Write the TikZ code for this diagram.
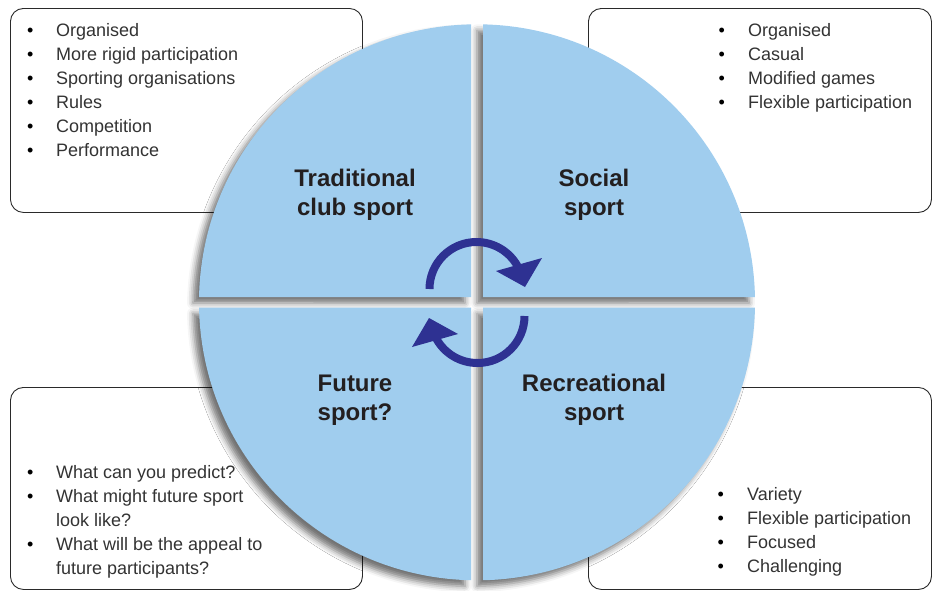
\documentclass[tikz,border=0pt]{standalone}
\usepackage{fontspec}
\setmainfont{Liberation Sans}
\usetikzlibrary{shadows.blur}
\definecolor{quadblue}{HTML}{A0CDEE}
\definecolor{arrowblue}{HTML}{2E3192}
\definecolor{boxline}{HTML}{2A2A2A}
\definecolor{txtgrey}{HTML}{333333}
\definecolor{labblack}{HTML}{231F20}
\begin{document}
\begin{tikzpicture}[x=1pt,y=-1pt,
  infobox/.style={draw=boxline, line width=0.9pt, rounded corners=13pt, fill=white, anchor=north west, inner sep=0pt},
  listitem/.style={anchor=base west, inner sep=0pt, text=txtgrey, font=\fontsize{18}{24}\selectfont},
  bulletmark/.style={anchor=base west, inner sep=0pt, text=black, font=\fontsize{18}{24}\selectfont},
  quadlabel/.style={anchor=base, inner sep=0pt, text=labblack, font=\fontsize{24}{29}\selectfont\bfseries},
  qshadow/.style={blur shadow={shadow xshift=-6pt, shadow yshift=-6pt, shadow blur radius=6pt, shadow opacity=55}},
  quadfill/.style={fill=quadblue},
  cyc/.style={draw=arrowblue, line width=8pt},
  headtri/.style={fill=arrowblue}]
\useasboundingbox (0,0) rectangle (932,590);

% corner boxes
\node[infobox, minimum width=352pt, minimum height=204pt] (boxTL) at (10,8) {};
\node[infobox, minimum width=343pt, minimum height=204pt] (boxTR) at (588,8) {};
\node[infobox, minimum width=352pt, minimum height=202pt] (boxBL) at (10,387) {};
\node[infobox, minimum width=343pt, minimum height=202pt] (boxBR) at (588,387) {};

% top-left list
\foreach \t [count=\i] in {Organised, More rigid participation, Sporting organisations, Rules, Competition, Performance} {
  \node[bulletmark] (tlb\i) at (27,{12.5+24*\i}) {\textbullet};
  \node[listitem] (tlt\i) at (56,{12.5+24*\i}) {\t};
}
% top-right list
\foreach \t [count=\i] in {Organised, Casual, Modified games, Flexible participation} {
  \node[bulletmark] (trb\i) at (718.5,{12.5+24*\i}) {\textbullet};
  \node[listitem] (trt\i) at (748,{12.5+24*\i}) {\t};
}
% bottom-left list
\node[bulletmark] (blb1) at (27,478.5) {\textbullet};
\node[listitem] (blt1) at (56,478.5) {What can you predict?};
\node[bulletmark] (blb2) at (27,502.5) {\textbullet};
\node[listitem] (blt2) at (56,502.5) {What might future sport};
\node[listitem] (blt3) at (56,526.5) {look like?};
\node[bulletmark] (blb4) at (27,550.5) {\textbullet};
\node[listitem] (blt4) at (56,550.5) {What will be the appeal to};
\node[listitem] (blt5) at (56,574.5) {future participants?};
% bottom-right list
\foreach \t [count=\i] in {Variety, Flexible participation, Focused, Challenging} {
  \node[bulletmark] (brb\i) at (717.5,{476.5+24*\i}) {\textbullet};
  \node[listitem] (brt\i) at (747,{476.5+24*\i}) {\t};
}

% the four quadrants (centre 477,302.3; radius 278)
\coordinate (disc) at (477,302.3);
\def\quadTL{(471,297.1) -- (471,24.365) arc[start angle=268.763, end angle=181.072, radius=278] -- cycle}
\def\quadTR{(483,297.1) -- (483,24.365) arc[start angle=271.237, end angle=358.928, radius=278] -- cycle}
\def\quadBR{(483,307.5) -- (754.95,307.5) arc[start angle=1.072, end angle=88.763, radius=278] -- cycle}
\def\quadBL{(471,307.5) -- (471,580.235) arc[start angle=91.237, end angle=178.928, radius=278] -- cycle}
\path[qshadow] \quadTL;
\path[qshadow] \quadTR;
\path[qshadow] \quadBR;
\path[qshadow] \quadBL;
\fill[quadfill] \quadTL;
\fill[quadfill] \quadTR;
\fill[quadfill] \quadBR;
\fill[quadfill] \quadBL;

% quadrant labels
\node[quadlabel] (trad1) at (355,186.7) {Traditional};
\node[quadlabel] (trad2) at (355,215.5) {club sport};
\node[quadlabel] (soc1) at (594,186.7) {Social};
\node[quadlabel] (soc2) at (594,215.5) {sport};
\node[quadlabel] (fut1) at (355,391.7) {Future};
\node[quadlabel] (fut2) at (355,420.5) {sport?};
\node[quadlabel] (rec1) at (594,391.7) {Recreational};
\node[quadlabel] (rec2) at (594,420.5) {sport};

% cycle arrows
\coordinate (c1) at (476.5,289);
\coordinate (c2) at (477.5,316);
\draw[cyc] (c1) ++(180:47) arc[start angle=180, end angle=331, radius=47];
\fill[headtri] (496,271) -- (542,258) -- (525,287) -- cycle;
\draw[cyc] (c2) ++(0:47) arc[start angle=0, end angle=151, radius=47];
\fill[headtri] (458,334) -- (412,347) -- (429,318) -- cycle;
\end{tikzpicture}
\end{document}
